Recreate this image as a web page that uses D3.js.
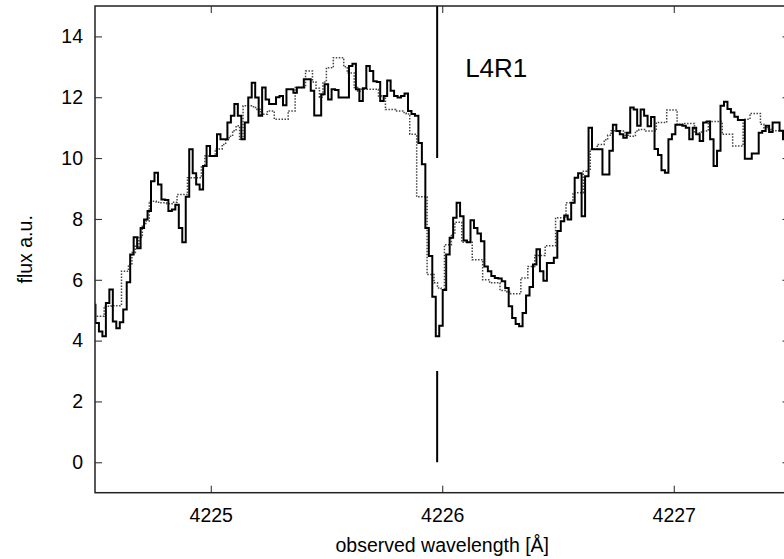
<!DOCTYPE html>
<html><head><meta charset="utf-8">
<script src="https://cdn.jsdelivr.net/npm/d3@7"></script>
<style>
html,body{margin:0;padding:0;background:#fff;overflow:hidden}
svg{display:block}
text{font-family:"Liberation Sans",Arial,Helvetica,sans-serif;fill:#000}
</style></head><body>
<svg id="chart" width="784" height="559"></svg>
<script>
// Spectral sampling: start of the first bin and bin width (Å)
const lambdaStart = 4224.487;
const binWidth = 0.0150;

// Observed flux per bin (solid histogram)
const observedFlux = [
 5.18,4.58,4.30,4.14,5.24,5.68,4.63,4.41,4.60,5.02,
 5.92,6.83,7.40,7.04,7.70,7.98,8.26,9.24,9.52,9.13,
 8.64,8.62,8.26,8.31,8.47,7.70,7.23,8.73,10.29,9.50,
 9.13,8.97,9.74,10.40,10.07,10.07,10.78,10.62,10.62,11.17,
 11.39,11.78,11.39,10.62,11.17,11.99,12.48,11.99,11.39,12.32,
 11.93,11.78,11.78,12.00,12.04,11.74,12.26,12.26,12.15,12.32,
 12.32,12.59,12.59,12.21,11.40,11.40,12.10,12.43,11.93,12.26,
 12.24,11.99,11.99,11.99,13.03,13.10,12.26,11.88,12.30,13.03,
 12.86,12.53,12.50,11.88,12.04,12.55,12.21,12.04,11.99,12.04,
 12.12,11.55,11.45,11.39,10.50,9.80,7.70,6.78,5.44,4.14,
 4.49,5.66,6.83,7.38,8.04,8.53,8.09,7.29,7.23,7.96,
 7.70,7.52,7.27,6.44,6.28,6.12,6.06,6.04,5.95,5.73,
 5.13,4.74,4.55,4.47,4.91,5.48,5.76,6.50,7.00,6.28,
 5.97,6.55,6.55,6.72,7.60,7.92,8.11,7.98,8.53,9.35,
 9.50,8.09,9.40,11.00,10.29,10.29,10.29,9.46,9.46,10.24,
 11.10,10.89,10.78,10.67,10.83,11.66,11.60,11.06,11.60,11.39,
 11.05,11.35,10.30,10.10,9.60,9.52,10.62,10.78,11.10,11.10,
 11.06,11.00,10.62,11.00,10.78,10.56,11.17,11.20,10.62,9.74,
 10.24,11.72,11.85,11.61,11.50,11.36,11.25,11.25,9.98,9.98,
 10.15,10.15,10.83,10.89,11.06,10.86,11.17,11.17,10.90,10.62,
 10.60
];

// Model flux per bin (dotted histogram), bins offset by half a bin
const modelFlux = [
 4.80,4.80,4.80,5.13,5.13,5.15,5.15,5.15,6.28,6.28,
 6.50,6.90,7.10,7.40,7.80,7.93,8.58,8.58,8.55,8.53,
 8.53,8.50,8.50,8.55,8.80,8.80,8.80,9.35,9.35,9.35,
 9.35,9.74,10.07,10.07,10.07,10.30,10.30,10.45,10.60,10.72,
 10.90,11.06,10.62,11.72,11.72,11.72,11.66,11.60,11.44,11.44,
 11.55,11.55,11.28,11.28,11.28,11.28,11.55,11.55,12.32,12.32,
 12.32,12.86,12.86,12.50,12.30,12.00,12.50,12.97,12.97,13.30,
 13.30,13.30,13.00,12.80,12.80,12.32,12.20,12.26,12.26,12.26,
 12.26,12.26,12.04,12.04,11.60,11.60,11.60,11.55,11.55,11.50,
 11.45,10.78,10.78,8.73,8.73,8.73,6.17,6.17,5.90,5.73,
 5.67,7.15,7.15,7.50,7.89,7.89,7.23,7.23,7.23,6.66,
 6.66,6.66,6.00,6.00,5.90,5.90,5.90,5.65,5.65,5.60,
 5.54,5.54,5.54,6.06,6.06,6.44,6.44,6.80,6.80,6.80,
 7.12,7.12,7.12,8.04,8.04,8.04,8.53,8.53,8.86,8.86,
 8.86,9.57,9.60,10.29,10.29,10.45,10.45,10.60,10.75,10.90,
 10.90,10.90,10.89,10.75,10.72,10.72,10.89,10.94,10.94,10.89,
 10.89,10.89,11.17,11.17,11.17,11.58,11.58,11.58,11.11,11.11,
 11.14,11.14,11.14,10.83,10.83,10.89,10.89,11.20,11.20,11.20,
 11.20,10.78,10.78,10.78,10.40,10.40,10.40,11.28,11.28,11.47,
 11.47,11.47,11.11,11.00,10.95,10.90,10.90,10.90,10.90,10.90
];

const xTicks = [4225, 4226, 4227];
const yTicks = [0, 2, 4, 6, 8, 10, 12, 14];
const xDomain = [4224.5, 4227.5];
const yDomain = [-1, 15];

// Line position marker: wavelength and its two flux segments
const markerWavelength = 4225.978;
const markerSegments = [[10, 15], [0, 3]];
const markerLabel = "L4R1";

const xTitle = "observed wavelength [Å]";
const yTitle = "flux a.u.";

const svg = d3.select("#chart");
const plotLeft = 95, plotRight = 789.5, plotTop = 6, plotBottom = 492.7;

const x = d3.scaleLinear().domain(xDomain).range([plotLeft, plotRight]);
const y = d3.scaleLinear().domain(yDomain).range([plotBottom, plotTop]);

svg.append("defs").append("clipPath").attr("id", "plotArea")
  .append("rect").attr("x", plotLeft).attr("y", plotTop)
  .attr("width", plotRight - plotLeft).attr("height", plotBottom - plotTop);

// Convert binned values to step-line points (bin starts plus closing edge)
function stepPoints(values, offset) {
  const pts = values.map((v, i) => [lambdaStart + (i + offset) * binWidth, v]);
  pts.push([lambdaStart + (values.length + offset) * binWidth, values[values.length - 1]]);
  return pts;
}

const stepLine = d3.line()
  .x(d => x(d[0])).y(d => y(d[1]))
  .curve(d3.curveStepAfter);

const plot = svg.append("g").attr("clip-path", "url(#plotArea)");

plot.append("path")
  .attr("d", stepLine(stepPoints(modelFlux, 0.5)))
  .attr("fill", "none")
  .attr("stroke", "#444")
  .attr("stroke-width", 1.5)
  .attr("stroke-dasharray", "1.5,1.5");

plot.append("path")
  .attr("d", stepLine(stepPoints(observedFlux, 0)))
  .attr("fill", "none")
  .attr("stroke", "#000")
  .attr("stroke-width", 2)
  .attr("stroke-linejoin", "miter");

// Marker segments
plot.selectAll("line.marker").data(markerSegments).enter().append("line")
  .attr("class", "marker")
  .attr("x1", x(markerWavelength)).attr("x2", x(markerWavelength))
  .attr("y1", d => y(d[0])).attr("y2", d => y(d[1]))
  .attr("stroke", "#000").attr("stroke-width", 2);

svg.append("text")
  .attr("x", x(markerWavelength) + 28).attr("y", 77)
  .attr("font-size", 26)
  .text(markerLabel);

// Axes with inward ticks on all four sides
function styleAxis(g) {
  g.select(".domain").remove();
  g.selectAll(".tick line").attr("stroke", "#222").attr("stroke-width", 1);
  g.selectAll(".tick text").attr("font-size", 19.5)
    .attr("font-family", '"Liberation Sans",Arial,Helvetica,sans-serif').attr("fill", "#000");
}

svg.append("g").attr("transform", `translate(0,${plotBottom})`)
  .call(d3.axisBottom(x).tickValues(xTicks).tickFormat(d3.format("d")).tickSize(-7).tickPadding(15))
  .call(styleAxis);
svg.append("g").attr("transform", `translate(0,${plotTop})`)
  .call(d3.axisTop(x).tickValues(xTicks).tickFormat("").tickSize(-7))
  .call(styleAxis);
svg.append("g").attr("transform", `translate(${plotLeft},0)`)
  .call(d3.axisLeft(y).tickValues(yTicks).tickFormat(d3.format("d")).tickSize(-7).tickPadding(12))
  .call(styleAxis);
svg.append("g").attr("transform", `translate(${plotRight},0)`)
  .call(d3.axisRight(y).tickValues(yTicks).tickFormat("").tickSize(-7))
  .call(styleAxis);

// Frame
svg.append("rect")
  .attr("x", plotLeft).attr("y", plotTop)
  .attr("width", plotRight - plotLeft).attr("height", plotBottom - plotTop)
  .attr("fill", "none").attr("stroke", "#222").attr("stroke-width", 1.5);

// Axis titles
svg.append("text")
  .attr("x", (plotLeft + plotRight) / 2).attr("y", 551.5)
  .attr("text-anchor", "middle").attr("font-size", 19.5)
  .text(xTitle);

svg.append("text")
  .attr("transform", `translate(32,${(plotTop + plotBottom) / 2}) rotate(-90)`)
  .attr("text-anchor", "middle").attr("font-size", 19.5)
  .text(yTitle);
</script>
</body></html>
